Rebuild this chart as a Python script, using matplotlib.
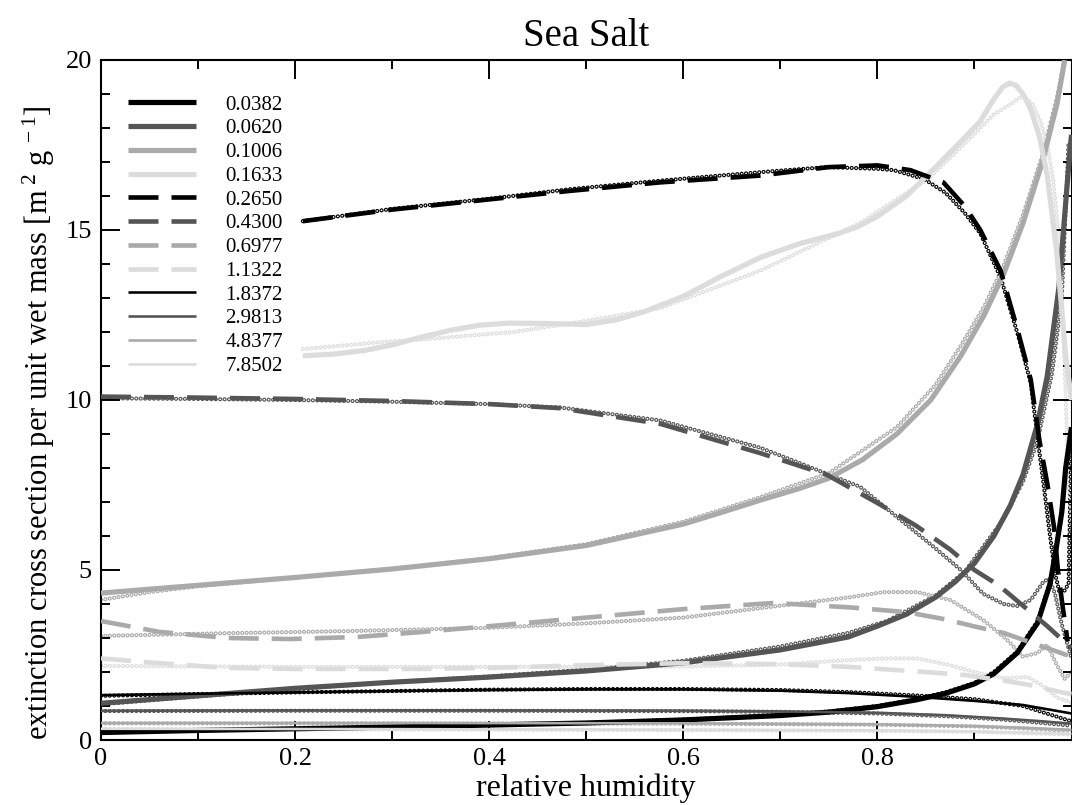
import numpy as np
import matplotlib
matplotlib.use('Agg')
import matplotlib.pyplot as plt

plt.rcParams['font.family'] = ['Liberation Serif', 'DejaVu Serif']
plt.rcParams['mathtext.fontset'] = 'custom'
plt.rcParams['mathtext.rm'] = 'Liberation Serif'
plt.rcParams['mathtext.it'] = 'Liberation Serif:italic'
plt.rcParams['lines.scale_dashes'] = False

# ---------------- data ----------------
radii = ['0.0382', '0.0620', '0.1006', '0.1633', '0.2650', '0.4300',
         '0.6977', '1.1322', '1.8372', '2.9813', '4.8377', '7.8502']

# r = 0.0382
rh_0382 = [0, 0.1, 0.2, 0.3, 0.4, 0.5, 0.6, 0.7, 0.75, 0.8, 0.84, 0.87, 0.9, 0.92,
           0.944, 0.965, 0.978, 0.984, 0.99, 0.994, 1.0]
ext_0382 = [0.22, 0.28, 0.33, 0.38, 0.44, 0.5, 0.59, 0.72, 0.82, 0.98, 1.18, 1.37, 1.65, 1.95,
            2.56, 3.44, 4.6, 5.6, 6.7, 8.0, 9.2]
dot_rh_0382 = rh_0382
dot_ext_0382 = [0.22, 0.28, 0.33, 0.38, 0.44, 0.5, 0.6, 0.73, 0.84, 1.0, 1.2, 1.4, 1.68, 2.0,
                2.6, 3.5, 4.65, 5.6, 6.7, 8.0, 9.1]

# r = 0.0620
rh_0620 = [0, 0.1, 0.2, 0.3, 0.4, 0.5, 0.6, 0.7, 0.77, 0.8, 0.83, 0.86, 0.88, 0.9, 0.92,
           0.937, 0.95, 0.965, 0.975, 0.987, 0.996, 1.0]
ext_0620 = [1.08, 1.3, 1.52, 1.7, 1.85, 2.03, 2.27, 2.65, 3.03, 3.35, 3.7, 4.2, 4.65, 5.2,
            6.0, 6.9, 7.8, 9.3, 10.7, 13.3, 16.5, 17.8]
dot_rh_0620 = [0, 0.1, 0.2, 0.3, 0.4, 0.5, 0.6, 0.7, 0.77, 0.81, 0.86, 0.89, 0.93, 0.95,
               0.965, 0.98, 0.99, 0.997]
dot_ext_0620 = [1.05, 1.28, 1.5, 1.7, 1.87, 2.07, 2.33, 2.75, 3.15, 3.5, 4.25, 4.95, 6.5, 7.6,
                8.8, 10.8, 13.0, 17.6]

# r = 0.1006
rh_1006 = [0, 0.1, 0.2, 0.3, 0.4, 0.5, 0.6, 0.64, 0.68, 0.72, 0.75, 0.785, 0.82, 0.855,
           0.886, 0.91, 0.93, 0.95, 0.97, 0.985, 0.993]
ext_1006 = [4.32, 4.55, 4.78, 5.03, 5.33, 5.72, 6.35, 6.7, 7.06, 7.4, 7.7, 8.25, 9.0, 10.0,
            11.3, 12.5, 13.7, 15.2, 17.0, 18.7, 20.0]
dot_rh_1006 = [0, 0.05, 0.1, 0.2, 0.3, 0.4, 0.5, 0.6, 0.68, 0.75, 0.82, 0.86, 0.886, 0.91,
               0.93, 0.95, 0.97, 0.985, 0.993]
dot_ext_1006 = [4.12, 4.35, 4.52, 4.78, 5.03, 5.35, 5.76, 6.42, 7.15, 7.85, 9.2, 10.45, 11.6,
                12.75, 13.95, 15.45, 17.2, 18.9, 20.0]

# r = 0.1633
rh_1633 = [0.208, 0.24, 0.27, 0.3, 0.33, 0.36, 0.39, 0.42, 0.46, 0.5, 0.53, 0.56, 0.6,
           0.64, 0.68, 0.72, 0.76, 0.78, 0.8, 0.83, 0.86, 0.886, 0.906, 0.92, 0.929, 0.936,
           0.943, 0.95, 0.958, 0.967, 0.975, 0.985, 0.994, 1.0]
ext_1633 = [11.3, 11.35, 11.45, 11.62, 11.85, 12.05, 12.2, 12.26, 12.25, 12.22, 12.35, 12.6,
            13.05, 13.65, 14.2, 14.6, 14.9, 15.1, 15.4, 16.0, 16.85, 17.6, 18.2, 18.85,
            19.2, 19.32, 19.25, 19.0, 18.55, 17.75, 16.6, 14.3, 11.3, 10.0]
dot_rh_1633 = [0.208, 0.288, 0.339, 0.425, 0.494, 0.576, 0.679, 0.782, 0.852, 0.892, 0.92,
               0.94, 0.95, 0.96, 0.968, 0.975, 0.981, 0.987, 0.993, 0.997, 1.0]
dot_ext_1633 = [11.5, 11.7, 11.8, 12.0, 12.3, 12.7, 13.8, 15.2, 16.5, 17.6, 18.4, 18.75,
                18.97, 18.7, 18.2, 17.5, 16.5, 14.8, 11.0, 7.5, 6.2]

# r = 0.2650
rh_2650 = [0.208, 0.3, 0.4, 0.483, 0.576, 0.679, 0.75, 0.8, 0.834, 0.868, 0.89, 0.906,
           0.927, 0.945, 0.958, 0.967, 0.975, 0.982, 0.986, 0.991, 0.996]
ext_2650 = [15.26, 15.6, 15.9, 16.15, 16.4, 16.6, 16.85, 16.9, 16.76, 16.4, 15.7, 15.0,
            13.8, 12.0, 10.6, 8.8, 7.55, 6.26, 5.0, 3.9, 2.9]
dot_rh_2650 = [0.208, 0.3, 0.4, 0.483, 0.576, 0.679, 0.748, 0.8, 0.817, 0.848, 0.87, 0.89,
               0.906, 0.927, 0.945, 0.958, 0.967, 0.972, 0.977, 0.983, 0.988, 0.993,
               0.997, 1.0]
dot_ext_2650 = [15.26, 15.62, 15.92, 16.2, 16.45, 16.7, 16.85, 16.8, 16.76, 16.5, 16.1,
                15.5, 14.9, 13.6, 11.9, 10.5, 8.45, 7.35, 6.2, 4.9, 4.3, 4.4, 4.6, 9.1]

# r = 0.4300
rh_4300 = [0, 0.1, 0.2, 0.3, 0.4, 0.473, 0.576, 0.679, 0.748, 0.8, 0.84, 0.875, 0.9,
           0.925, 0.95, 0.975, 1.0]
ext_4300 = [10.1, 10.07, 10.03, 9.97, 9.88, 9.76, 9.3, 8.44, 7.8, 6.97, 6.3, 5.6, 5.0,
            4.55, 3.95, 3.35, 2.7]
dot_rh_4300 = [0, 0.1, 0.2, 0.3, 0.4, 0.473, 0.576, 0.679, 0.782, 0.824, 0.858, 0.886,
               0.909, 0.93, 0.944, 0.958, 0.971, 0.977, 0.983, 0.99, 1.0]
dot_ext_4300 = [10.05, 10.03, 10.0, 9.95, 9.88, 9.78, 9.4, 8.6, 7.45, 6.47, 5.68, 5.0,
                4.3, 4.0, 3.94, 4.12, 4.65, 4.75, 4.3, 3.4, 2.4]

# r = 0.6977
rh_6977 = [0, 0.06, 0.13, 0.195, 0.264, 0.332, 0.401, 0.5, 0.6, 0.693, 0.772, 0.83, 0.87,
           0.9, 0.93, 0.96, 0.99, 1.0]
ext_6977 = [3.5, 3.18, 3.0, 2.97, 3.03, 3.18, 3.35, 3.6, 3.85, 4.03, 3.9, 3.76, 3.55,
            3.34, 3.15, 2.85, 2.55, 2.45]
dot_rh_6977 = [0, 0.126, 0.25, 0.4, 0.5, 0.6, 0.7, 0.772, 0.806, 0.841, 0.875, 0.909,
               0.934, 0.95, 0.965, 0.975, 0.985, 0.993, 1.0]
dot_ext_6977 = [3.06, 3.14, 3.2, 3.3, 3.43, 3.6, 3.95, 4.2, 4.35, 4.35, 4.12, 3.53, 2.94,
                2.45, 2.56, 2.8, 2.2, 1.8, 2.0]

# r = 1.1322
rh_11322 = [0, 0.06, 0.13, 0.2, 0.33, 0.4, 0.5, 0.6, 0.7, 0.77, 0.84, 0.89, 0.93, 0.96,
            0.99, 1.0]
ext_11322 = [2.4, 2.26, 2.12, 2.09, 2.09, 2.12, 2.2, 2.26, 2.23, 2.15, 2.02, 1.91, 1.75,
             1.6, 1.4, 1.35]
dot_rh_11322 = [0, 0.2, 0.4, 0.6, 0.7, 0.77, 0.806, 0.841, 0.875, 0.9, 0.93, 0.955, 0.97,
                0.985, 1.0]
dot_ext_11322 = [2.18, 2.15, 2.15, 2.16, 2.22, 2.35, 2.4, 2.4, 2.2, 2.0, 1.82, 1.85, 1.6,
                 1.25, 1.1]

# r = 1.8372
rh_18372 = [0, 0.1, 0.2, 0.3, 0.4, 0.5, 0.6, 0.7, 0.77, 0.84, 0.9, 0.95, 1.0]
ext_18372 = [1.32, 1.36, 1.4, 1.44, 1.47, 1.49, 1.49, 1.45, 1.38, 1.27, 1.15, 1.03, 0.78]
dot_rh_18372 = rh_18372
dot_ext_18372 = [1.3, 1.35, 1.4, 1.44, 1.48, 1.5, 1.5, 1.47, 1.41, 1.31, 1.2, 1.0, 0.55]

# r = 2.9813
rh_29813 = [0, 0.2, 0.4, 0.6, 0.7, 0.8, 0.87, 0.93, 0.97, 1.0]
ext_29813 = [0.86, 0.87, 0.87, 0.86, 0.84, 0.8, 0.73, 0.63, 0.55, 0.48]
dot_rh_29813 = rh_29813
dot_ext_29813 = [0.85, 0.86, 0.86, 0.85, 0.83, 0.78, 0.7, 0.6, 0.5, 0.42]

# r = 4.8377
rh_48377 = [0, 0.3, 0.6, 0.8, 0.9, 0.95, 1.0]
ext_48377 = [0.5, 0.5, 0.49, 0.46, 0.41, 0.36, 0.3]
dot_rh_48377 = rh_48377
dot_ext_48377 = [0.49, 0.49, 0.48, 0.45, 0.4, 0.34, 0.27]

# r = 7.8502
rh_78502 = [0, 0.3, 0.6, 0.8, 0.9, 0.95, 1.0]
ext_78502 = [0.33, 0.32, 0.3, 0.28, 0.25, 0.22, 0.18]
dot_rh_78502 = rh_78502
dot_ext_78502 = [0.32, 0.31, 0.29, 0.27, 0.24, 0.2, 0.16]

x_ticks = [0, 0.2, 0.4, 0.6, 0.8, 1.0]
x_ticklabels = ['0', '0.2', '0.4', '0.6', '0.8', '']
y_ticks = [0, 5, 10, 15, 20]
y_ticklabels = ['0', '5', '10', '15', '20']

lines_data = [(rh_0382, ext_0382), (rh_0620, ext_0620), (rh_1006, ext_1006),
              (rh_1633, ext_1633), (rh_2650, ext_2650), (rh_4300, ext_4300),
              (rh_6977, ext_6977), (rh_11322, ext_11322), (rh_18372, ext_18372),
              (rh_29813, ext_29813), (rh_48377, ext_48377), (rh_78502, ext_78502)]
dots_data = [(dot_rh_0382, dot_ext_0382), (dot_rh_0620, dot_ext_0620),
             (dot_rh_1006, dot_ext_1006), (dot_rh_1633, dot_ext_1633),
             (dot_rh_2650, dot_ext_2650), (dot_rh_4300, dot_ext_4300),
             (dot_rh_6977, dot_ext_6977), (dot_rh_11322, dot_ext_11322),
             (dot_rh_18372, dot_ext_18372), (dot_rh_29813, dot_ext_29813),
             (dot_rh_48377, dot_ext_48377), (dot_rh_78502, dot_ext_78502)]

# ---------------- styles ----------------
greys = ['#000000', '#555555', '#aaaaaa', '#dcdcdc']
PX = 72.0 / 100.0  # points per pixel


def style(i):
    grp = i // 4
    c = greys[i % 4]
    if grp == 0:
        return dict(color=c, lw=5.2 * PX, ls='-', solid_capstyle='butt')
    if grp == 1:
        return dict(color=c, lw=4.6 * PX, ls=(0, (30 * PX, 13 * PX)),
                    dash_capstyle='butt')
    return dict(color=c, lw=2.6 * PX, ls='-', solid_capstyle='butt')


# ---------------- figure ----------------
fig = plt.figure(figsize=(10.72, 8.05), dpi=100)
ax = fig.add_axes([101 / 1072, 65 / 805, (1071.5 - 101) / 1072, 680 / 805])

dot_pattern = (0, (0.01, 4.4 * PX))
for i, (dx, dy) in enumerate(dots_data):
    c = greys[i % 4]
    ax.plot(dx, dy, color=c, lw=4.2 * PX, ls=dot_pattern, dash_capstyle='round',
            zorder=1)
    ax.plot(dx, dy, color='white', lw=1.8 * PX, ls=dot_pattern,
            dash_capstyle='round', zorder=1.5)

handles = []
for i, (lx, ly) in enumerate(lines_data):
    h, = ax.plot(lx, ly, label=radii[i], zorder=3, **style(i))
    handles.append(h)

ax.set_xlim(0, 1)
ax.set_ylim(0, 20)
ax.set_xticks(x_ticks)
ax.set_xticklabels(x_ticklabels)
ax.set_yticks(y_ticks)
ax.set_yticklabels(y_ticklabels)
ax.set_xticks(np.arange(0, 1.0001, 0.1), minor=True)
ax.set_yticks(np.arange(0, 20.001, 1), minor=True)
ax.tick_params(which='both', direction='in', top=True, right=True,
               width=1.4, labelsize=19)
ax.tick_params(which='major', length=13.5)
ax.tick_params(which='minor', length=6.5)
ax.tick_params(axis='x', pad=6)
ax.tick_params(axis='y', pad=6.5)
for sp in ax.spines.values():
    sp.set_linewidth(1.5)

ax.set_title('Sea Salt', fontsize=28, pad=10)
ax.set_xlabel('relative humidity', fontsize=23, labelpad=2)
ax.set_ylabel(r'extinction cross section per unit wet mass [m$^{\ 2}$ g$^{\ -1}$]',
              fontsize=22)
ax.yaxis.set_label_coords(-0.045, 0.466)

ax.legend(handles=handles, loc='upper left', bbox_to_anchor=(27 / 970, 1 - 35 / 680),
          frameon=False, fontsize=15, handlelength=3.27, handletextpad=1.4,
          labelspacing=0.2, borderpad=0, borderaxespad=0)

fig.savefig('out.png', dpi=100)
